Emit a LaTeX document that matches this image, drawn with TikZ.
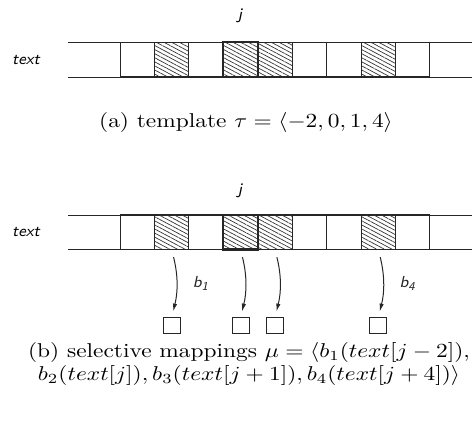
\documentclass[tikz,border=0pt]{standalone}
\usepackage{amsmath,amssymb}
\usepackage{graphicx}
\usepackage{tikz}
\usetikzlibrary{arrows.meta,positioning,patterns.meta}
\tikzset{
  cell/.style  = {rectangle, draw=black!85, line width=0.5pt, minimum width=17.2pt,
                  minimum height=17.4pt, inner sep=0pt, outer sep=0pt},
  hcell/.style = {cell, pattern={Lines[angle=-28,distance=1.8pt,line width=0.35pt]},
                  pattern color=black!80},
  jcell/.style = {hcell, line width=1.1pt},
  slot/.style  = {rectangle, draw=black!85, line width=0.5pt, minimum width=8.5pt,
                  minimum height=8pt, inner sep=0pt},
  lbl/.style   = {font=\sffamily\itshape\footnotesize, inner sep=1pt},
  capt/.style  = {align=center, font=\normalsize, inner sep=0pt},
  rail/.style  = {line width=0.5pt, black!85},
  fl/.style    = {-{Latex[length=4pt,width=2.2pt]}, line width=0.5pt, black!85},
}
\newcommand{\wide}[1]{\scalebox{1.17}[1]{#1}}

\begin{document}
\begin{tikzpicture}[x=0.5pt,y=-0.5pt]
  \useasboundingbox (0,0) rectangle (472,424);
  % (a) template
  \draw[rail] (68,42) -- (472,42);
  \draw[rail] (68,77) -- (472,77);
  \foreach \k/\s in {0/cell,1/hcell,2/cell,4/hcell,5/cell,6/cell,7/hcell,8/cell,3/jcell}
    \node[\s] (a\k) at ({137.2+34.44*\k},59.5) {};
  \node[lbl] (ta) at (26,60) {text};
  \node[lbl] (ja) at (240,16) {j};
  \node[capt] (capa) at (246,122) {\wide{(a) template $\tau = \langle -2, 0, 1, 4\rangle$}};

  % (b) selective mappings
  \draw[rail] (68,215) -- (472,215);
  \draw[rail] (68,249) -- (472,249);
  \foreach \k/\s in {0/cell,1/hcell,2/cell,4/hcell,5/cell,6/cell,7/hcell,8/cell,3/jcell}
    \node[\s] (b\k) at ({137.2+34.44*\k},232) {};
  \node[lbl] (tb) at (26,232) {text};
  \node[lbl] (jb) at (240,191) {j};

  \foreach \k in {1,3,4,7}
    \node[slot, below=34pt of b\k] (m\k) {};
  \draw[fl, shorten <=4pt, shorten >=3pt] (b1.south) to[bend left=14]
    node[lbl, right=7pt] (l1) {b\textsubscript{1}} (m1.north);
  \draw[fl, shorten <=4pt, shorten >=3pt] (b3.south) to[bend left=14] (m3.north);
  \draw[fl, shorten <=4pt, shorten >=3pt] (b4.south) to[bend left=14] (m4.north);
  \draw[fl, shorten <=4pt, shorten >=3pt] (b7.south) to[bend left=14]
    node[lbl, right=7pt] (l4) {b\textsubscript{4}} (m7.north);

  \node[capt] (capb) at (249,364) {\wide{\begin{tabular}{@{}c@{}}
    (b) selective mappings $\mu = \langle b_1(text[j-2]),$\\[-0.5pt]
    $b_2(text[j]), b_3(text[j+1]), b_4(text[j+4])\rangle$\end{tabular}}};
\end{tikzpicture}
\end{document}
